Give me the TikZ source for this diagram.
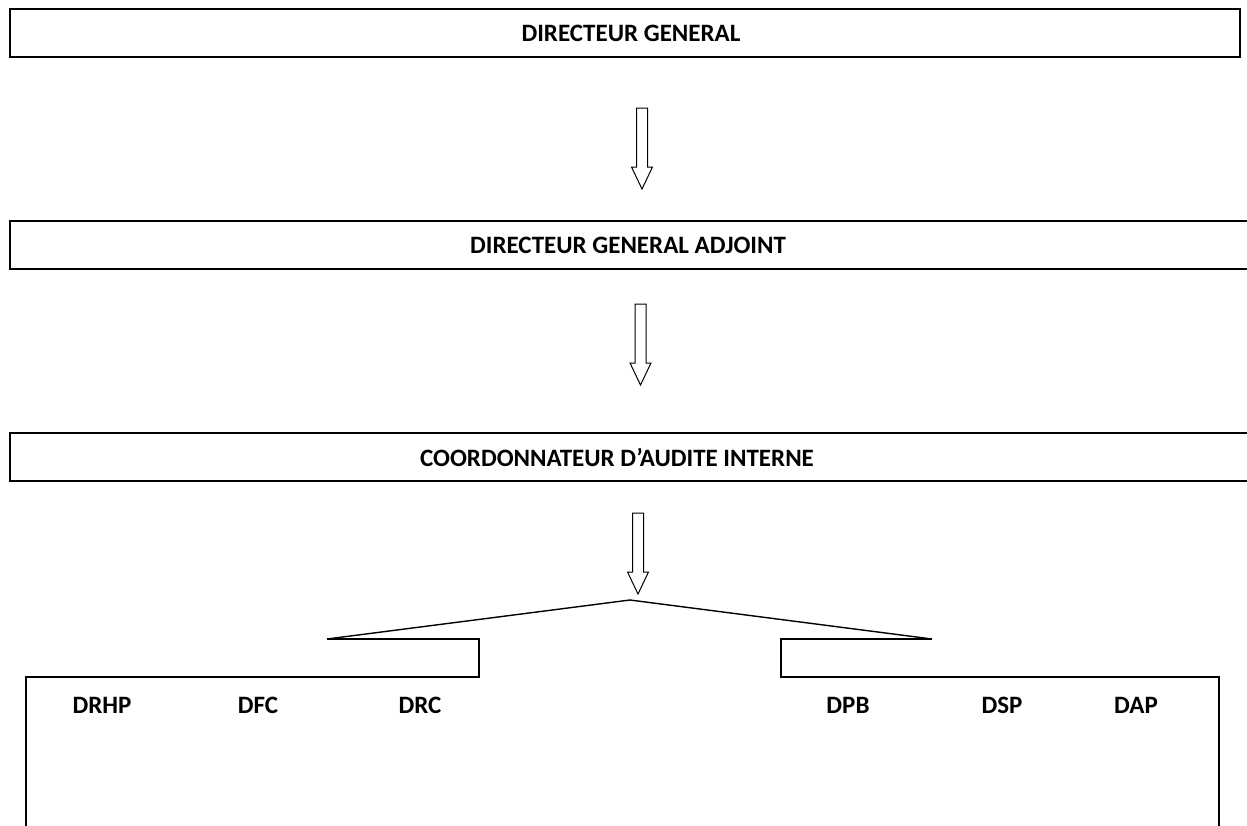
\documentclass[tikz,border=0pt]{standalone}
\usepackage{fontspec}
\setmainfont{Carlito}
\tikzset{
  headbox/.style={line width=2pt},
  titletext/.style={font=\bfseries\fontsize{25}{30}\selectfont, inner sep=0pt, anchor=center},
  lbltext/.style={font=\bfseries\fontsize{25}{30}\selectfont, inner sep=0pt, anchor=center},
  treeline/.style={line width=1.4pt},
  blockarr/.pic={\draw[line width=1pt, line join=miter] (-5.5,0) -- (-5.5,59) -- (-10.5,59) -- (0,81) -- (10.5,59) -- (5.5,59) -- (5.5,0) -- cycle;}
}
\begin{document}
\begin{tikzpicture}[x=1pt,y=-1pt]
\useasboundingbox (0,0) rectangle (1247,825);
% title boxes
\draw[headbox] (10,9) rectangle (1240,57);
\node[titletext] (dg) at (631,33) {DIRECTEUR GENERAL};
\draw[headbox] (10,221) rectangle (1260,269);
\node[titletext] (dga) at (628,245) {DIRECTEUR GENERAL ADJOINT};
\draw[headbox] (10,433) rectangle (1260,481);
\node[titletext] (cai) at (617,457) {COORDONNATEUR D’AUDITE INTERNE};
% block arrows
\pic at (642,108) {blockarr};
\pic at (640.5,304) {blockarr};
\pic at (638,513) {blockarr};
% tree
\coordinate (apex) at (630,600);
\coordinate (lend) at (327,639);
\coordinate (rend) at (932,639);
\draw[treeline] (lend) -- (apex) -- (rend);
\draw[treeline, line join=miter] (lend) -- (479,639) -- (479,677) -- (26,677) -- (26,840);
\draw[treeline, line join=miter] (rend) -- (781,639) -- (781,677) -- (1219,677) -- (1219,840);
% labels
\node[lbltext] (drhp) at (102,705) {DRHP};
\node[lbltext] (dfc) at (258,705) {DFC};
\node[lbltext] (drc) at (420,705) {DRC};
\node[lbltext] (dpb) at (848,705) {DPB};
\node[lbltext] (dsp) at (1002,705) {DSP};
\node[lbltext] (dap) at (1136,705) {DAP};
\end{tikzpicture}
\end{document}
